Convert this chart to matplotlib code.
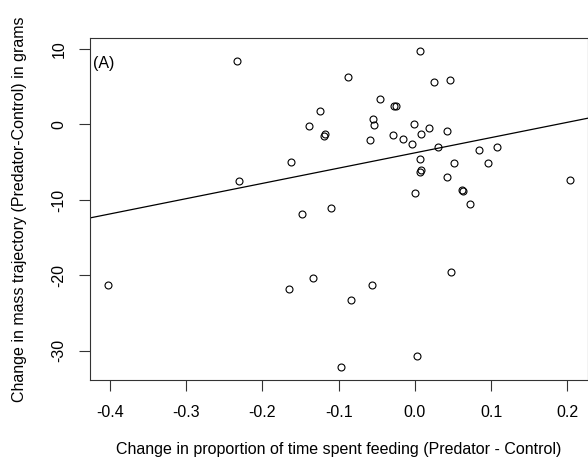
import matplotlib
matplotlib.use("Agg")
import matplotlib.pyplot as plt
import numpy as np

plt.rcParams['font.family'] = ['Liberation Sans', 'DejaVu Sans']

# change in proportion of time spent feeding (Predator - Control)
feeding_change = [
    -0.2333, -0.1245, -0.1393, -0.1179, -0.1188, -0.1622, -0.2301,
    0.0067, -0.0880, 0.0251, 0.0457, -0.0451, -0.0271, -0.0249,
    -0.0547, -0.0530, -0.0017, 0.0189, 0.0080, 0.0417, -0.0293,
    -0.0157, -0.0587, -0.0043, 0.0304, 0.0847, 0.1071, 0.0067,
    0.0514, 0.0962, 0.0084, 0.0067, 0.0417, 0.2032, -0.0004,
    0.0617, 0.0628, -0.1482, -0.1104, -0.4021, -0.1649, -0.1341,
    -0.0964, 0.0725, 0.0475, -0.0561, -0.0841, 0.0028,
]
# change in mass trajectory (Predator - Control), grams
mass_change = [
    8.41, 1.83, -0.16, -1.26, -1.52, -4.93, -7.44,
    9.73, 6.33, 5.63, 5.89, 3.38, 2.41, 2.41,
    0.73, -0.11, 0.03, -0.42, -1.26, -0.82, -1.39,
    -1.92, -2.05, -2.54, -2.94, -3.38, -2.94, -4.61,
    -5.06, -5.06, -6.03, -6.29, -6.99, -7.31, -9.11,
    -8.74, -8.85, -11.81, -11.06, -21.21, -21.79, -20.37,
    -32.16, -10.53, -19.54, -21.22, -23.21, -30.74,
]
# fitted line
fit_intercept = -3.76
fit_slope = 20.24

x_ticks = [-0.4, -0.3, -0.2, -0.1, 0.0, 0.1, 0.2]
y_ticks = [10, 0, -10, -20, -30]

fig = plt.figure(figsize=(5.88, 4.69), dpi=100)
ax = fig.add_axes([90/588, 1 - 380/469, 1 - 90/588, (380 - 38.3)/469])

ax.plot(feeding_change, mass_change, linestyle='none', marker='o',
        markersize=5, markerfacecolor='none', markeredgecolor='black',
        markeredgewidth=0.8)
ax.axline((0, fit_intercept), slope=fit_slope, color='black', linewidth=0.9)

ax.set_xlim(-0.426, 0.227)
ax.set_ylim(-33.86, 11.42)
ax.set_xticks(x_ticks)
ax.set_xticklabels(['%.1f' % v for v in x_ticks])
ax.set_yticks(y_ticks)
ax.set_yticklabels([str(v) for v in y_ticks], rotation=90, va='center')

ax.tick_params(direction='out', length=8, width=0.8, labelsize=11.5,
               color='#333333')
ax.tick_params(axis='x', pad=10)
ax.tick_params(axis='y', pad=9)
for s in ax.spines.values():
    s.set_linewidth(0.8)
    s.set_color('#333333')

ax.set_xlabel('Change in proportion of time spent feeding (Predator - Control)',
              fontsize=11.5)
ax.xaxis.set_label_coords(0.5, -0.1814)
ax.set_ylabel('Change in mass trajectory (Predator-Control) in grams',
              fontsize=11.5)
ax.yaxis.set_label_coords(-0.1265, 0.5)

ax.text(0.006, 0.925, '(A)', transform=ax.transAxes, fontsize=11.5,
        va='center', ha='left')

fig.savefig('out.png', dpi=100)
